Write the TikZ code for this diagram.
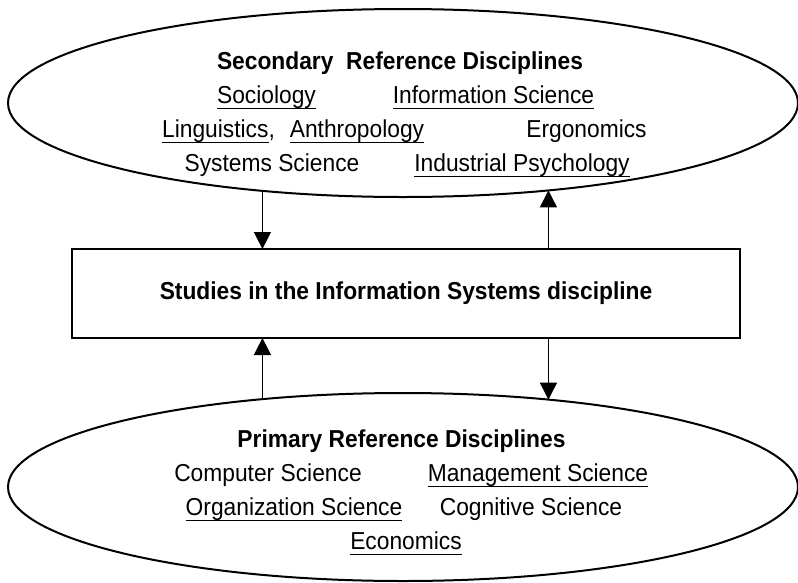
\documentclass[tikz,border=0pt]{standalone}
\usepackage{fontspec}
\setmainfont{Liberation Sans}[FakeStretch=0.93]
\usetikzlibrary{shapes.geometric,arrows.meta}
% underlined word: a rule just below the baseline, as wide as the word
\newcommand\ulw[1]{\setbox0\hbox{#1}\rlap{\rule[-6pt]{\wd0}{1pt}}\box0}
\begin{document}
\begin{tikzpicture}[x=1pt,y=-1pt,
  oval/.style={ellipse,draw,line width=2pt,minimum width=790pt,minimum height=188pt,inner sep=0pt,outer sep=0pt},
  box/.style={rectangle,draw,line width=1.6pt,minimum width=668pt,minimum height=89pt,inner sep=0pt,outer sep=0pt,font=\fontsize{24.5}{28}\selectfont\bfseries},
  lbl/.style={font=\fontsize{24.5}{28}\selectfont,inner sep=0pt,anchor=base},
  head/.style={lbl,font=\fontsize{24.5}{28}\selectfont\bfseries},
  flow/.style={line width=1.5pt,-{Triangle[width=17pt,length=17pt]}}]
\useasboundingbox (0,0) rectangle (798,582);

% the three blocks
\node[oval] (sec) at (403,103) {};
\node[oval] (pri) at (403,487) {};
\node[box] (isd) at (406,293.5) {Studies in the Information Systems discipline};

% secondary reference disciplines
\node[head] (sech) at (400,69) {Secondary\ \ Reference Disciplines};
\node[lbl] (soc) at (266.5,103) {\ulw{Sociology}};
\node[lbl] (inf) at (493.5,103) {\ulw{Information Science}};
\node[lbl] (lin) at (218.5,137) {\ulw{Linguistics},};
\node[lbl] (ant) at (357,137) {\ulw{Anthropology}};
\node[lbl] (erg) at (586.5,137) {Ergonomics};
\node[lbl] (sys) at (272,171) {Systems Science};
\node[lbl] (ind) at (522,171) {\ulw{Industrial Psychology}};

% primary reference disciplines
\node[head] (prih) at (401.5,447) {Primary Reference Disciplines};
\node[lbl] (cs) at (268,481) {Computer Science};
\node[lbl] (ms) at (538,481) {\ulw{Management Science}};
\node[lbl] (os) at (294,515) {\ulw{Organization Science}};
\node[lbl] (cog) at (531,515) {Cognitive Science};
\node[lbl] (eco) at (406,549) {\ulw{Economics}};

% exchanges between the blocks
\draw[flow] (sec.212) -- (sec.212 |- isd.north);
\draw[flow] (isd.north -| sec.329) -- (sec.329);
\draw[flow] (pri.148) -- (pri.148 |- isd.south);
\draw[flow] (isd.south -| pri.31) -- (pri.31);
\end{tikzpicture}
\end{document}
